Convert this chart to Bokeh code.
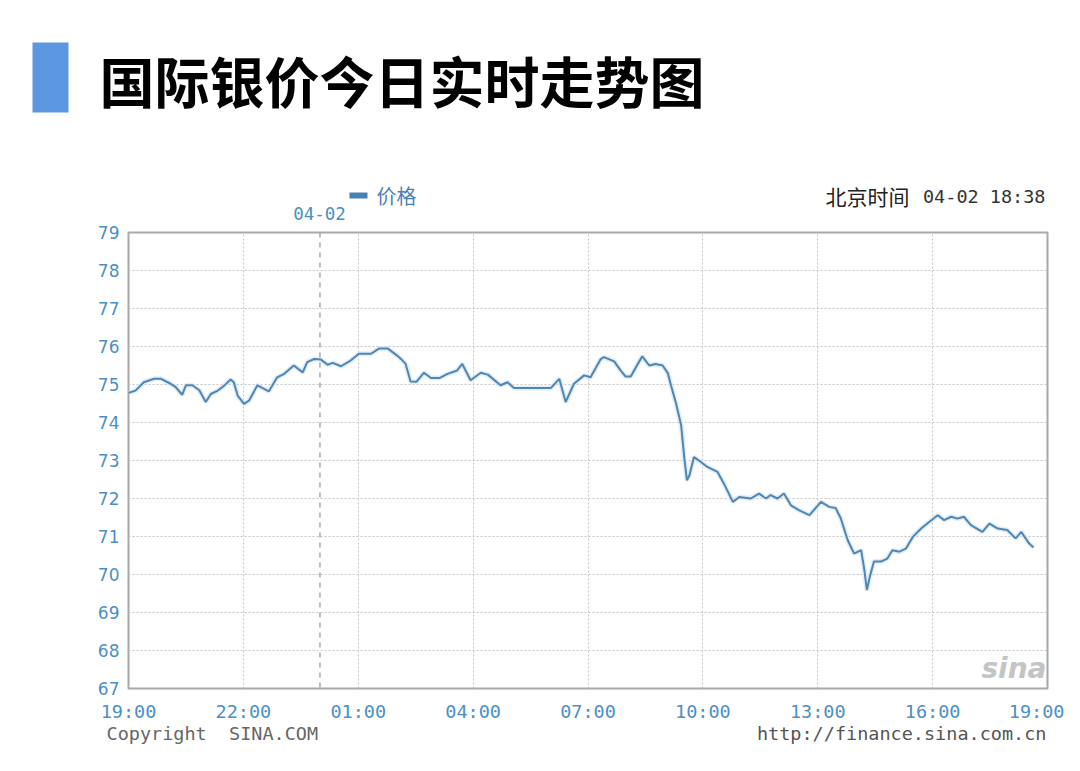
from bokeh.plotting import figure
from bokeh.models import (Range1d, FixedTicker, Label, Span, BoxAnnotation)
from bokeh.layouts import column, row
from bokeh.embed import file_html
from bokeh.resources import INLINE

# ---------------- data ----------------
times = ["19:00", "19:11", "19:24", "19:40", "19:51", "20:06", "20:14", "20:24", "20:30", "20:40",
         "20:51", "21:01", "21:09", "21:20", "21:30", "21:40", "21:45", "21:51", "22:01", "22:09",
         "22:22", "22:40", "22:53", "23:04", "23:19", "23:33", "23:40", "23:51", "00:01", "00:12",
         "00:20", "00:33", "00:48", "01:01", "01:20", "01:33", "01:46", "02:01", "02:07", "02:14",
         "02:22", "02:31", "02:43", "02:54", "03:07", "03:20", "03:35", "03:43", "03:56", "04:12",
         "04:23", "04:43", "04:54", "05:04", "06:02", "06:15", "06:25", "06:38", "06:54", "07:04",
         "07:20", "07:25", "07:41", "07:51", "07:59", "08:07", "08:18", "08:25", "08:36", "08:46",
         "08:57", "09:05", "09:10", "09:18", "09:26", "09:31", "09:35", "09:39", "09:46", "09:57",
         "10:07", "10:23", "10:33", "10:47", "10:57", "11:15", "11:28", "11:39", "11:46", "11:57",
         "12:07", "12:18", "12:31", "12:47", "13:05", "13:18", "13:28", "13:36", "13:47", "13:57",
         "14:08", "14:13", "14:17", "14:21", "14:28", "14:39", "14:49", "14:57", "15:08", "15:18",
         "15:29", "15:42", "15:55", "16:08", "16:18", "16:29", "16:39", "16:49", "17:00", "17:18",
         "17:29", "17:42", "17:57", "18:10", "18:19", "18:31", "18:38"]
prices = [74.78, 74.84, 75.06, 75.15, 75.15, 75.02, 74.93, 74.73, 74.98, 74.98,
          74.85, 74.54, 74.75, 74.84, 74.97, 75.13, 75.06, 74.71, 74.49, 74.58,
          74.98, 74.82, 75.19, 75.28, 75.50, 75.32, 75.59, 75.67, 75.66, 75.52,
          75.57, 75.48, 75.63, 75.81, 75.81, 75.95, 75.95, 75.76, 75.67, 75.55,
          75.08, 75.07, 75.31, 75.17, 75.17, 75.28, 75.37, 75.54, 75.11, 75.31,
          75.26, 74.98, 75.06, 74.91, 74.91, 75.15, 74.54, 75.02, 75.24, 75.19,
          75.67, 75.72, 75.61, 75.37, 75.21, 75.21, 75.54, 75.74, 75.50, 75.54,
          75.50, 75.30, 74.98, 74.50, 73.92, 73.05, 72.48, 72.61, 73.09, 72.96,
          72.83, 72.70, 72.39, 71.91, 72.04, 72.00, 72.13, 72.00, 72.09, 72.00,
          72.13, 71.82, 71.69, 71.56, 71.91, 71.78, 71.75, 71.48, 70.90, 70.55,
          70.64, 70.12, 69.59, 69.90, 70.34, 70.34, 70.42, 70.64, 70.60, 70.68,
          70.99, 71.21, 71.39, 71.56, 71.43, 71.52, 71.47, 71.52, 71.30, 71.12,
          71.34, 71.21, 71.17, 70.95, 71.12, 70.82, 70.71]
x_tick_labels = ["19:00", "22:00", "01:00", "04:00", "07:00", "10:00", "13:00", "16:00", "19:00"]
y_ticks = [67, 68, 69, 70, 71, 72, 73, 74, 75, 76, 77, 78, 79]
date_label = "04-02"
date_boundary = "00:00"
series_name = "价格"
title_text = "国际银价今日实时走势图"
stamp_text = "04-02 18:38"
copyright_text = "Copyright\u00a0\u00a0SINA.COM"
url_text = "http://finance.sina.com.cn"


def hours_since_start(t, start_hour=19):
    hh, mm = t.split(":")
    return (int(hh) - start_hour) % 24 + int(mm) / 60.0


xs = [hours_since_start(t) for t in times]
tick_pos = [hours_since_start(t) if i < len(x_tick_labels) - 1 else 24.0
            for i, t in enumerate(x_tick_labels)]

BLUE_TXT = "#4a8fc6"
LINE_C = "#4f86b3"
MONO = "DejaVu Sans Mono"
CJK = "Noto Sans CJK SC"
W = 1064
TOP_H = 224
BOT_H = 33


def blank_fig(h):
    f = figure(width=W, height=h, output_backend="svg", toolbar_location=None,
               x_range=Range1d(0, W), y_range=Range1d(0, h),
               x_axis_location=None, y_axis_location=None,
               min_border_left=0, min_border_right=0,
               min_border_top=0, min_border_bottom=0)
    f.grid.visible = False
    f.outline_line_color = None
    f.background_fill_color = "white"
    f.border_fill_color = "white"
    return f


# ---------------- header ----------------
top = blank_fig(TOP_H)


def tlab(px, py, text, **kw):
    top.add_layout(Label(x=px, y=TOP_H - py, text=text, text_baseline="middle", **kw))


top.add_layout(BoxAnnotation(left=32, right=68, top=TOP_H - 42, bottom=TOP_H - 112,
                             fill_color="#5b97e0", fill_alpha=1, line_color=None))
tlab(99, 78, title_text, text_font=CJK, text_font_style="bold",
     text_font_size="55px", text_color="#000000")
top.add_layout(BoxAnnotation(left=349, right=367, top=TOP_H - 192, bottom=TOP_H - 198,
                             fill_color="#4a80b8", fill_alpha=1, line_color=None))
tlab(376, 195, series_name, text_font=CJK, text_font_size="20px", text_color="#4a80b8")
tlab(319, 213, date_label, text_font=MONO, text_font_size="17.5px",
     text_color=BLUE_TXT, text_align="center")
tlab(1045, 196, stamp_text, text_font=MONO, text_font_size="18.5px",
     text_color="#333333", text_align="right")
tlab(909, 195, "北京时间", text_font=CJK, text_font_size="21px",
     text_color="#222222", text_align="right")

# ---------------- main chart ----------------
p = figure(frame_width=919, frame_height=456, output_backend="svg", toolbar_location=None,
           x_range=Range1d(0, 24), y_range=Range1d(67, 79),
           min_border_left=128, min_border_right=17,
           min_border_top=8, min_border_bottom=34)
p.background_fill_color = "white"
p.border_fill_color = "white"
p.outline_line_color = "#a8a8a8"
p.outline_line_width = 2

p.xaxis.ticker = FixedTicker(ticks=tick_pos)
p.xaxis.major_label_overrides = {tp: lab for tp, lab in zip(tick_pos, x_tick_labels)}
p.yaxis.ticker = FixedTicker(ticks=y_ticks)
for ax in (p.xaxis, p.yaxis):
    ax.axis_line_color = None
    ax.major_tick_line_color = None
    ax.minor_tick_line_color = None
    ax.major_tick_out = 0
    ax.major_tick_in = 0
    ax.major_label_text_color = BLUE_TXT
p.xaxis.major_label_text_font = MONO
p.xaxis.major_label_text_font_size = "18.5px"
p.xaxis.major_label_standoff = 12
p.yaxis.major_label_text_font = "DejaVu Sans"
p.yaxis.major_label_text_font_size = "17px"
p.yaxis.major_label_standoff = 9

p.xgrid.ticker = FixedTicker(ticks=tick_pos)
p.ygrid.ticker = FixedTicker(ticks=y_ticks)
for g in (p.xgrid, p.ygrid):
    g.grid_line_color = "#c4c4c4"
    g.grid_line_dash = "2 2"
    g.grid_line_width = 1

p.add_layout(Span(location=hours_since_start(date_boundary), dimension="height",
                  line_color="#a8a8a8", line_dash="5 5", line_width=1.5))

p.line(xs, prices, line_color="#cfe3f2", line_width=5, line_alpha=0.6)
p.line(xs, prices, line_color=LINE_C, line_width=2)

# watermark inside the frame (screen units from frame bottom-left)
p.add_layout(Label(x=918, y=20, x_units="screen", y_units="screen", text="sina",
                   text_baseline="middle", text_align="right",
                   text_font="DejaVu Sans", text_font_style="bold italic",
                   text_font_size="28px", text_color="#c4c4c4"))

# ---------------- footer ----------------
bot = blank_fig(BOT_H)
bot.add_layout(Label(x=106, y=BOT_H - 9, text=copyright_text, text_baseline="middle",
                     text_font=MONO, text_font_size="18.5px", text_color="#666666"))
bot.add_layout(Label(x=1046, y=BOT_H - 9, text=url_text,
                     text_baseline="middle", text_align="right",
                     text_font=MONO, text_font_size="18.5px", text_color="#555555"))

layout = column(row(top), row(p), row(bot), spacing=0)
open("out.html", "w").write(file_html(layout, INLINE))
